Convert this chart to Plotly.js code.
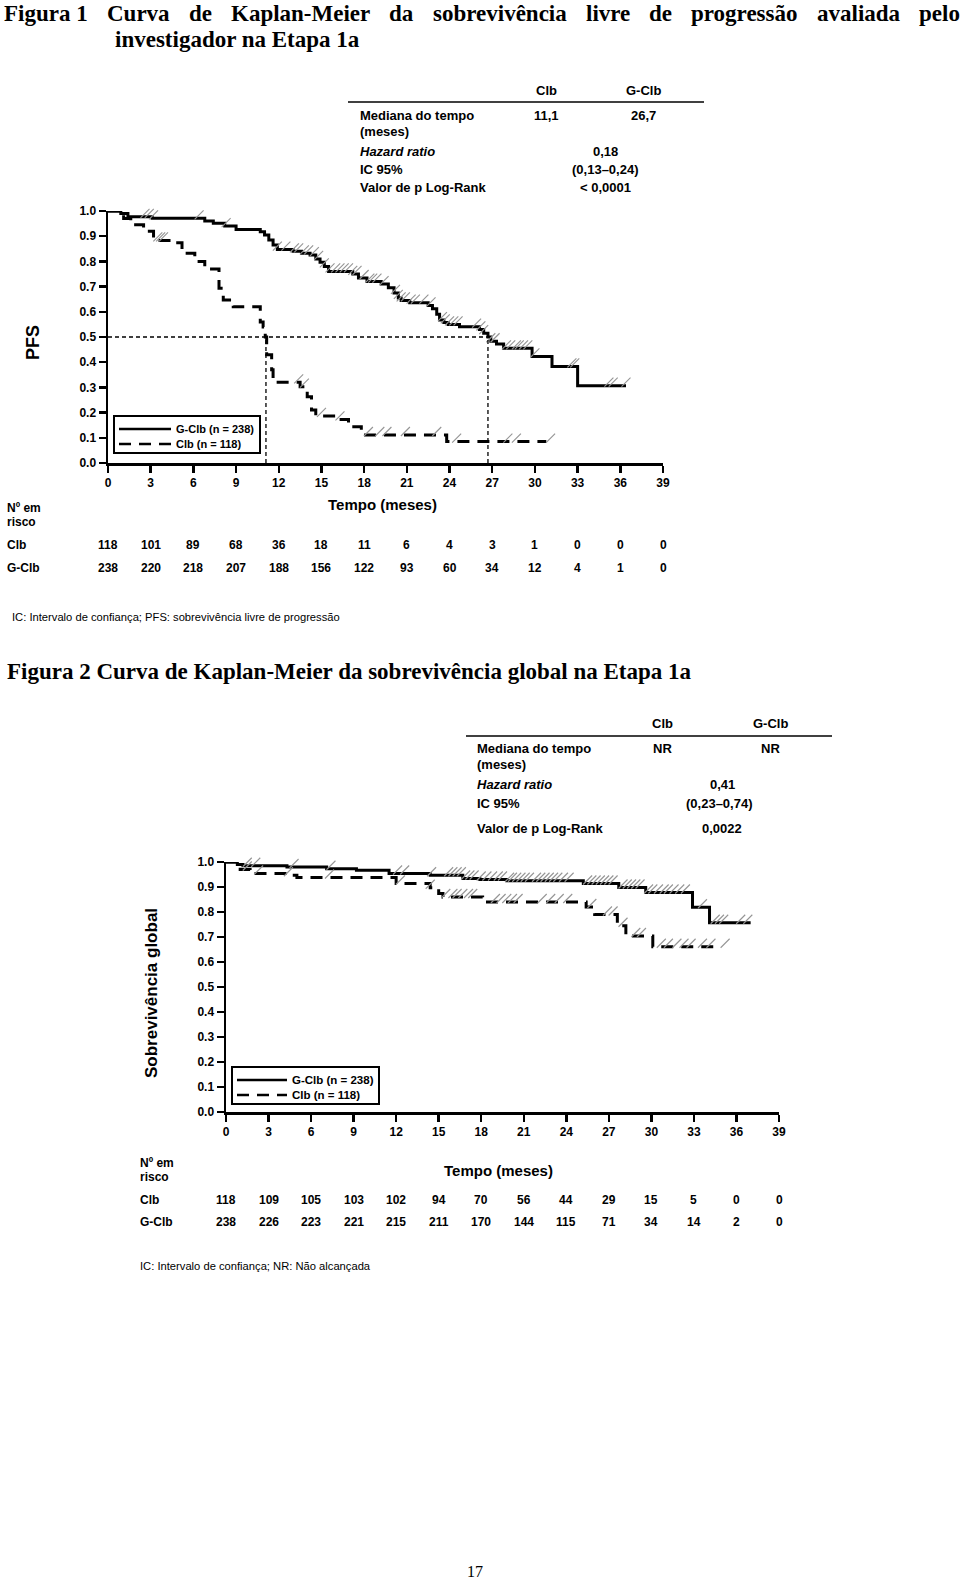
<!DOCTYPE html>
<html>
<head>
<meta charset="utf-8">
<script src="https://cdn.plot.ly/plotly-3.0.1.min.js"></script>
<style>
	body { margin: 0; background: #fff; }
</style>
</head>
<body>
<div id="chart" style="width:960px;height:1582px"></div>
<script>
// --- data ---

// Figura 1: PFS, step curves (time in months, survival after the step)
const pfsGclbT = [0, 0.9, 1.4, 3.1, 6.8, 7.4, 8.2, 9.0, 10.7, 11.0, 11.3, 11.6, 11.9, 13.0, 13.6, 14.2, 14.6, 14.9, 15.2, 15.5, 17.2, 17.6, 18.2, 19.2, 19.7, 20.1, 20.4, 20.6, 21.2, 22.5, 22.8, 23.1, 23.3, 23.6, 23.9, 24.7, 26.1, 26.4, 26.7, 26.9, 27.3, 27.8, 29.8, 31.2, 33.0, 36.4];
const pfsGclbS = [1, 0.99, 0.977, 0.971, 0.96, 0.951, 0.94, 0.927, 0.918, 0.905, 0.885, 0.865, 0.847, 0.84, 0.832, 0.825, 0.81, 0.797, 0.78, 0.76, 0.75, 0.734, 0.72, 0.71, 0.695, 0.675, 0.655, 0.645, 0.636, 0.625, 0.612, 0.59, 0.567, 0.558, 0.55, 0.541, 0.53, 0.515, 0.5, 0.483, 0.472, 0.455, 0.423, 0.383, 0.307, 0.307];
const pfsClbT = [0, 1.1, 1.6, 2.5, 3.2, 4.9, 5.2, 6.1, 6.8, 7.8, 8.1, 8.8, 10.7, 10.9, 11.05, 11.15, 11.5, 11.6, 13.5, 14.0, 14.3, 14.6, 16.1, 16.9, 17.8, 23.8, 30.8];
const pfsClbS = [1, 0.97, 0.945, 0.92, 0.883, 0.874, 0.832, 0.8, 0.77, 0.693, 0.647, 0.62, 0.56, 0.54, 0.5, 0.43, 0.37, 0.32, 0.303, 0.263, 0.21, 0.187, 0.173, 0.144, 0.111, 0.085, 0.085];
const pfsGclbCens = [0.3, 2.6, 2.9, 3.2, 6.4, 8.3, 11.9, 12.5, 13.1, 13.4, 13.8, 14.1, 14.5, 14.8, 15.2, 15.6, 16.0, 16.3, 16.6, 16.9, 17.2, 17.5, 18.0, 18.4, 18.6, 18.9, 19.4, 20.2, 20.4, 20.6, 20.9, 21.3, 21.6, 22.2, 22.7, 23.5, 23.7, 24.0, 24.3, 24.6, 25.9, 26.2, 26.4, 26.9, 27.2, 28.0, 28.3, 28.7, 28.9, 29.2, 29.5, 30.0, 32.6, 32.8, 35.2, 35.5, 36.4];
const pfsClbCens = [3.5, 3.7, 3.9, 13.4, 13.8, 15.0, 16.3, 18.3, 19.1, 19.6, 20.9, 23.1, 24.5, 28.1, 28.7, 31.1];
const pfsMedians = [11.1, 26.7];

// Figura 2: sobrevivência global
const osGclbT = [0, 0.8, 1.2, 4.3, 7.1, 9.2, 11.5, 14.4, 16.7, 17.9, 19.8, 25.2, 27.7, 29.6, 32.9, 34.1, 37.0];
const osGclbS = [1, 0.99, 0.985, 0.98, 0.973, 0.967, 0.954, 0.947, 0.934, 0.93, 0.925, 0.914, 0.898, 0.878, 0.819, 0.757, 0.757];
const osClbT = [0, 1.0, 1.7, 4.3, 5.0, 12.0, 14.4, 15.0, 15.3, 18.1, 25.4, 26.0, 27.6, 28.2, 30.1, 34.7];
const osClbS = [1, 0.97, 0.954, 0.947, 0.938, 0.914, 0.897, 0.874, 0.86, 0.84, 0.82, 0.79, 0.745, 0.704, 0.661, 0.661];
const osGclbCens = [0.2, 0.4, 0.6, 0.9, 1.5, 2.1, 4.8, 7.4, 12.1, 12.6, 14.5, 15.7, 16.0, 16.3, 16.6, 16.9, 17.2, 17.5, 18.0, 18.4, 18.8, 19.2, 19.5, 20.0, 20.2, 20.5, 20.8, 21.1, 21.4, 21.9, 22.2, 22.5, 22.8, 23.1, 23.4, 23.8, 24.2, 25.5, 25.8, 26.1, 26.4, 26.7, 27.0, 27.3, 28.0, 28.3, 28.6, 28.9, 29.2, 29.8, 30.1, 30.5, 30.9, 31.2, 31.6, 32.0, 32.4, 33.6, 34.5, 34.8, 35.1, 36.3, 36.8];
const osClbCens = [1.5, 2.3, 4.4, 7.3, 12.3, 14.4, 15.5, 16.0, 16.3, 16.7, 17.1, 17.4, 19.0, 19.4, 19.8, 20.2, 20.6, 22.3, 22.9, 23.5, 24.1, 25.8, 26.9, 27.3, 28.0, 28.9, 29.3, 30.7, 31.2, 31.8, 32.3, 32.8, 33.6, 34.2, 35.2];

// numbers at risk
const riskMonths = [0, 3, 6, 9, 12, 15, 18, 21, 24, 27, 30, 33, 36, 39];
const pfsRiskClb = [118, 101, 89, 68, 36, 18, 11, 6, 4, 3, 1, 0, 0, 0];
const pfsRiskGclb = [238, 220, 218, 207, 188, 156, 122, 93, 60, 34, 12, 4, 1, 0];
const osRiskClb = [118, 109, 105, 103, 102, 94, 70, 56, 44, 29, 15, 5, 0, 0];
const osRiskGclb = [238, 226, 223, 221, 215, 211, 170, 144, 115, 71, 34, 14, 2, 0];

// summary tables
const tableCols = ["Clb", "G-Clb"];
const pfsMedianTxt = ["11,1", "26,7"];
const pfsHR = ["0,18", "(0,13–0,24)", "< 0,0001"];
const osMedianTxt = ["NR", "NR"];
const osHR = ["0,41", "(0,23–0,74)", "0,0022"];
const legendNames = ["G-Clb (n = 238)", "Clb (n = 118)"];

// --- layout helpers ---
const W = 960, H = 1582;
const SANS = "Liberation Sans, Arial, sans-serif";
const SERIF = "Liberation Serif, Times New Roman, serif";
const DASH = "12px,8px";
const px = p => p / W;
const py = p => 1 - p / H;

function stepAt(t, times, surv) {
	let v = surv[0];
	for (let i = 0; i < times.length; i++) {
		if (times[i] <= t) v = surv[i];
	}
	return v;
}

function txt(x, y, text, size, opts = {}) {
	return {
		xref: "paper", yref: "paper", x: px(x), y: py(y),
		text: text, showarrow: false,
		xanchor: opts.xa || "left", yanchor: "middle",
		textangle: opts.angle || 0,
		font: { family: opts.family || SANS, size: size, color: "#000", weight: opts.weight || "bold" },
	};
}

function curve(T, S, name, dash, xa, ya) {
	return {
		x: T, y: S, xaxis: xa, yaxis: ya, name: name,
		type: "scatter", mode: "lines", line: { shape: "hv", color: "#000", width: 3, dash: dash },
		cliponaxis: false, hoverinfo: "skip",
	};
}

function censors(cens, T, S, xa, ya) {
	return {
		x: cens, y: cens.map(t => stepAt(t, T, S) + 0.014), xaxis: xa, yaxis: ya,
		type: "scatter", mode: "markers", cliponaxis: false, hoverinfo: "skip",
		marker: { symbol: "line-ne", size: 9, line: { color: "#959595", width: 1.1 } },
	};
}

let traces = [
	curve(pfsGclbT, pfsGclbS, legendNames[0], "solid", "x", "y"),
	curve(pfsClbT, pfsClbS, legendNames[1], DASH, "x", "y"),
	censors(pfsGclbCens, pfsGclbT, pfsGclbS, "x", "y"),
	censors(pfsClbCens, pfsClbT, pfsClbS, "x", "y"),
	{
		x: [0, pfsMedians[1]], y: [0.5, 0.5], xaxis: "x", yaxis: "y", hoverinfo: "skip",
		type: "scatter", mode: "lines", line: { color: "#000", width: 1.3, dash: "4px,3px" },
	},
];
pfsMedians.forEach(m => {
	traces.push({
		x: [m, m], y: [0, 0.5], xaxis: "x", yaxis: "y", hoverinfo: "skip",
		type: "scatter", mode: "lines", line: { color: "#000", width: 1.3, dash: "4px,3px" },
	});
});
traces.push(
	curve(osGclbT, osGclbS, legendNames[0], "solid", "x2", "y2"),
	curve(osClbT, osClbS, legendNames[1], DASH, "x2", "y2"),
	censors(osGclbCens, osGclbT, osGclbS, "x2", "y2"),
	censors(osClbCens, osClbT, osClbS, "x2", "y2"),
);

function xAxis(dom, anchor) {
	return {
		domain: dom, anchor: anchor, range: [0, 39], tick0: 0, dtick: 3,
		showline: true, linewidth: 2.5, linecolor: "#000", showgrid: false, zeroline: false,
		ticks: "outside", ticklen: 7, tickwidth: 2.5, tickcolor: "#000",
		tickfont: { family: SANS, size: 12, color: "#000", weight: "bold" },
	};
}
function yAxis(dom, anchor) {
	return {
		domain: dom, anchor: anchor, range: [0, 1], tick0: 0, dtick: 0.1, tickformat: ".1f",
		showline: true, linewidth: 2.5, linecolor: "#000", showgrid: false, zeroline: false,
		ticks: "outside", ticklen: 7, tickwidth: 2.5, tickcolor: "#000",
		tickfont: { family: SANS, size: 12, color: "#000", weight: "bold" },
	};
}

let annotations = [];
let shapes = [];

// Figure 1 title: first line justified across the page width
const title1Words = ["Figura 1", "Curva", "de", "Kaplan-Meier", "da", "sobrevivência", "livre", "de", "progressão", "avaliada", "pelo"];
const TITLE_SIZE = 23;
(function () {
	const ctx = document.createElement("canvas").getContext("2d");
	ctx.font = "bold " + TITLE_SIZE + "px 'Liberation Serif'";
	const widths = title1Words.map(w => ctx.measureText(w).width);
	const left = 2, right = 958;
	const gap = (right - left - widths.reduce((a, b) => a + b, 0)) / (title1Words.length - 1);
	let x = left;
	title1Words.forEach((w, i) => {
		annotations.push(txt(x, 13, w, TITLE_SIZE, { family: SERIF }));
		x += widths[i] + gap;
	});
})();
annotations.push(txt(113, 40, "investigador na Etapa 1a", TITLE_SIZE, { family: SERIF }));
annotations.push(txt(5, 671, "Figura 2 Curva de Kaplan-Meier da sobrevivência global na Etapa 1a", TITLE_SIZE, { family: SERIF }));

// summary table 1
annotations.push(txt(546, 91, tableCols[0], 13, { xa: "center" }));
annotations.push(txt(643, 91, tableCols[1], 13, { xa: "center" }));
annotations.push(txt(358, 115, "Mediana do tempo", 13));
annotations.push(txt(358, 132, "(meses)", 13));
annotations.push(txt(546, 115, pfsMedianTxt[0], 13, { xa: "center" }));
annotations.push(txt(643, 115, pfsMedianTxt[1], 13, { xa: "center" }));
annotations.push(txt(358, 152, "<i>Hazard ratio</i>", 13));
annotations.push(txt(358, 169, "IC 95%", 13));
annotations.push(txt(358, 187, "Valor de p Log-Rank", 13));
annotations.push(txt(605, 152, pfsHR[0], 13, { xa: "center" }));
annotations.push(txt(605, 169, pfsHR[1], 13, { xa: "center" }));
annotations.push(txt(605, 187, pfsHR[2], 13, { xa: "center" }));

// summary table 2
annotations.push(txt(662, 724, tableCols[0], 13, { xa: "center" }));
annotations.push(txt(770, 724, tableCols[1], 13, { xa: "center" }));
annotations.push(txt(475, 748, "Mediana do tempo", 13));
annotations.push(txt(475, 764, "(meses)", 13));
annotations.push(txt(662, 748, osMedianTxt[0], 13, { xa: "center" }));
annotations.push(txt(770, 748, osMedianTxt[1], 13, { xa: "center" }));
annotations.push(txt(475, 784, "<i>Hazard ratio</i>", 13));
annotations.push(txt(475, 803, "IC 95%", 13));
annotations.push(txt(475, 828, "Valor de p Log-Rank", 13));
annotations.push(txt(722, 784, osHR[0], 13, { xa: "center" }));
annotations.push(txt(719, 803, osHR[1], 13, { xa: "center" }));
annotations.push(txt(722, 828, osHR[2], 13, { xa: "center" }));

shapes.push(
	{ type: "line", xref: "paper", yref: "paper", x0: px(348), x1: px(704), y0: py(102), y1: py(102), line: { color: "#000", width: 1.5 } },
	{ type: "line", xref: "paper", yref: "paper", x0: px(466), x1: px(832), y0: py(736), y1: py(736), line: { color: "#000", width: 1.5 } },
);

// axis titles
annotations.push(txt(33, 343, "PFS", 18, { xa: "center", angle: -90 }));
annotations.push(txt(382, 504, "Tempo (meses)", 15, { xa: "center" }));
annotations.push(txt(151, 993, "Sobrevivência global", 17, { xa: "center", angle: -90 }));
annotations.push(txt(498, 1170, "Tempo (meses)", 15, { xa: "center" }));

// boxed legends
function legendBox(x0, y0, x1, y1, lineLen, size) {
	shapes.push({ type: "rect", xref: "paper", yref: "paper", x0: px(x0), x1: px(x1), y0: py(y0), y1: py(y1),
		line: { color: "#000", width: 2 }, fillcolor: "rgba(0,0,0,0)" });
	const rows = [y0 + 13, y0 + 28];
	[["solid", rows[0]], [DASH, rows[1]]].forEach(([d, yy], i) => {
		shapes.push({ type: "line", xref: "paper", yref: "paper", x0: px(x0 + 5), x1: px(x0 + 5 + lineLen),
			y0: py(yy), y1: py(yy), line: { color: "#000", width: 2.5, dash: d } });
		annotations.push(txt(x0 + 8 + lineLen, yy, legendNames[i], size));
	});
}
legendBox(114, 416, 260, 453, 52, 11);
legendBox(232, 1067, 379, 1104, 50, 11.5);

// numbers at risk
function riskRows(xref, rowX, yHead, yClb, yGclb, clb, gclb) {
	annotations.push(txt(rowX, yHead, "Nº em", 12));
	annotations.push(txt(rowX, yHead + 14, "risco", 12));
	annotations.push(txt(rowX, yClb, "Clb", 12));
	annotations.push(txt(rowX, yGclb, "G-Clb", 12));
	riskMonths.forEach((m, i) => {
		[[yClb, clb[i]], [yGclb, gclb[i]]].forEach(([yy, v]) => {
			annotations.push({
				xref: xref, yref: "paper", x: m, y: py(yy), text: String(v), showarrow: false,
				xanchor: "center", yanchor: "middle",
				font: { family: SANS, size: 12, color: "#000", weight: "bold" },
			});
		});
	});
}
riskRows("x", 5, 508, 545, 568, pfsRiskClb, pfsRiskGclb);
riskRows("x2", 138, 1163, 1200, 1222, osRiskClb, osRiskGclb);

// footnotes and page number
annotations.push(txt(10, 617, "IC: Intervalo de confiança; PFS: sobrevivência livre de progressão", 11.2, { weight: "normal" }));
annotations.push(txt(138, 1266, "IC: Intervalo de confiança; NR: Não alcançada", 11.2, { weight: "normal" }));
annotations.push(txt(475, 1571, "17", 16, { xa: "center", family: SERIF, weight: "normal" }));

const layout = {
	width: W, height: H,
	margin: { l: 0, r: 0, t: 0, b: 0 },
	paper_bgcolor: "#fff", plot_bgcolor: "#fff",
	showlegend: false,
	xaxis: xAxis([px(108), px(663)], "y"),
	yaxis: yAxis([py(463), py(211)], "x"),
	xaxis2: xAxis([px(226), px(779)], "y2"),
	yaxis2: yAxis([py(1112), py(862)], "x2"),
	annotations: annotations,
	shapes: shapes,
};

Plotly.newPlot("chart", traces, layout, { staticPlot: true });
</script>
</body>
</html>
